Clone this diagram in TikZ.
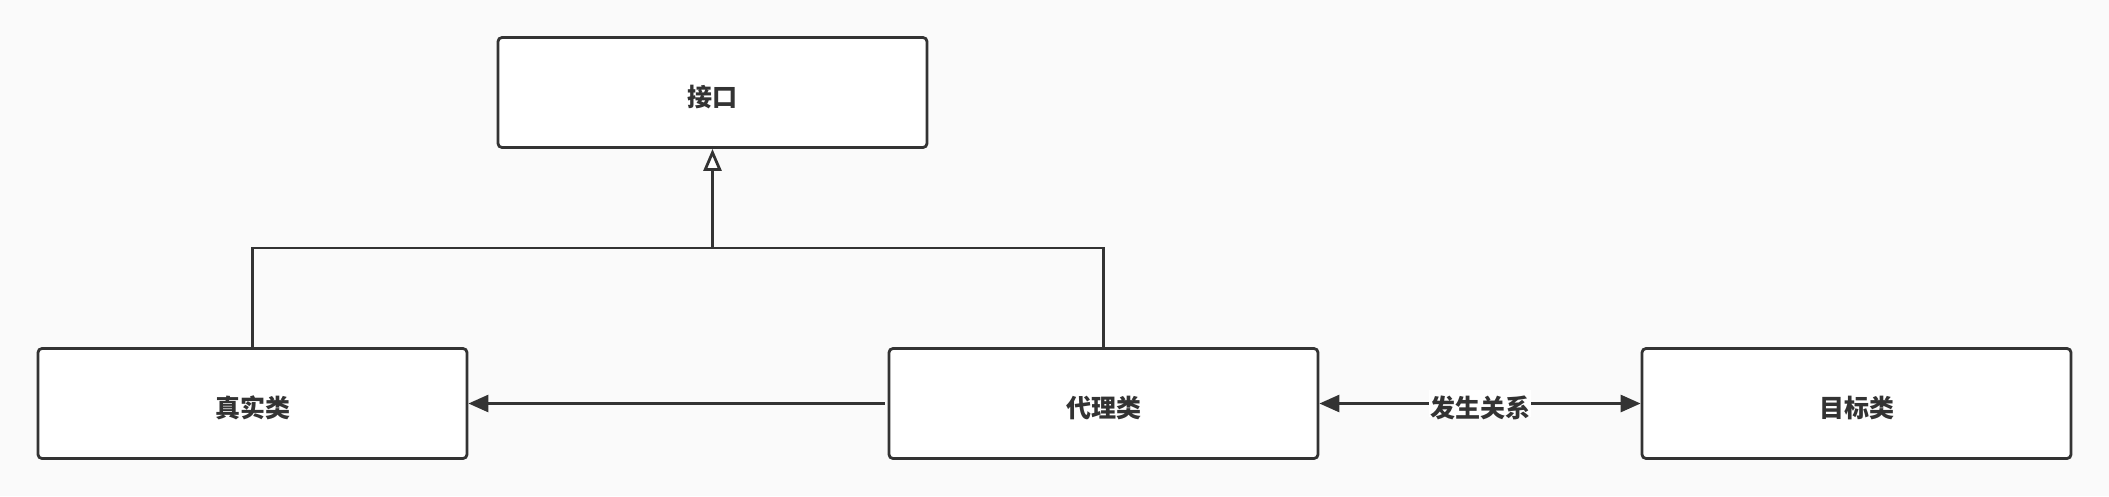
\documentclass[tikz,border=0pt]{standalone}
\usepackage{fontspec}
\newfontfamily\cjk{Noto Sans CJK SC}
\usetikzlibrary{arrows.meta}
\definecolor{ink}{HTML}{333333}
\definecolor{bg}{HTML}{FAFAFA}
\newcommand{\dn}[1]{\raisebox{-4.5pt}[\height][\depth]{#1}}
\begin{document}
\begin{tikzpicture}[x=1pt,y=-1pt,
  box/.style={draw=ink, fill=white, line width=2.8pt, rounded corners=4pt,
    minimum width=429pt, minimum height=110pt, inner sep=0pt,
    font=\cjk\bfseries\fontsize{25}{30}\selectfont, text=ink},
  conn/.style={draw=ink, line width=2.8pt},
  solidtip/.style={-{Triangle[length=20pt,width=17pt]}},
  opentip/.style={-{Triangle[open,length=22pt,width=18pt,fill=white]}},
  lbl/.style={fill=white, inner sep=1pt, text=ink, font=\cjk\bfseries\fontsize{25}{30}\selectfont}]
\fill[bg] (0,0) rectangle (2109,496);
\useasboundingbox (0,0) rectangle (2109,496);
\node[box] (iface) at (712.5,92.5) {\dn{接口}};
\node[box] (real) at (252.5,403.5) {\dn{真实类}};
\node[box] (proxy) at (1103.5,403.5) {\dn{代理类}};
\node[box] (target) at (1856.5,403.5) {\dn{目标类}};
\coordinate (j) at (iface.south |- 0,248);
\draw[conn] (real.north) |- (j) -| (proxy.north);
\draw[conn, opentip] (j) -- (iface.south);
\draw[conn, solidtip, shorten <=3pt] (proxy.west) -- (real.east);
\draw[conn, {Triangle[length=20pt,width=17pt]}-{Triangle[length=20pt,width=17pt]}] (proxy.east) -- node[lbl] (rel) {\dn{发生关系}} (target.west);
\end{tikzpicture}
\end{document}
